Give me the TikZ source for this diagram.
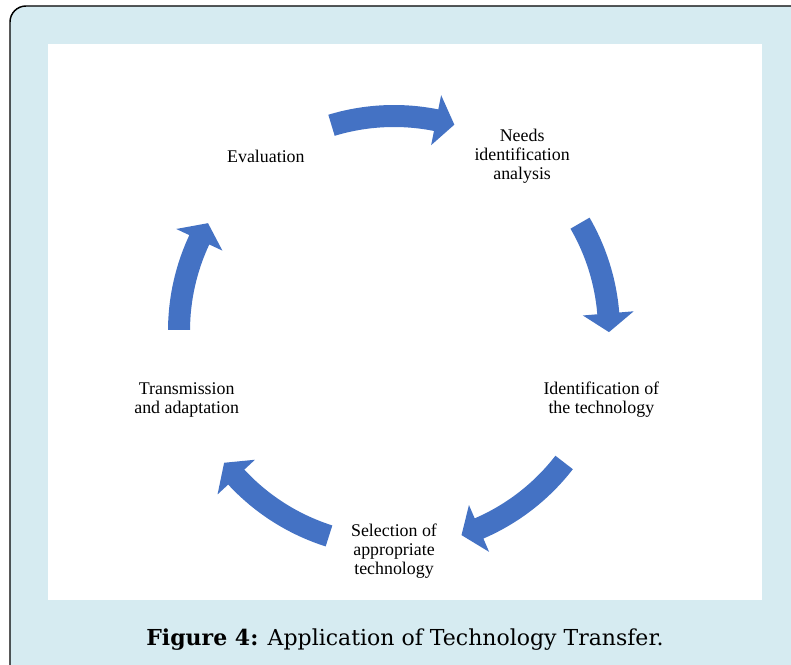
\documentclass[tikz,border=0pt]{standalone}
\usepackage{fontspec}
\setmainfont{Liberation Serif}
\newfontfamily\capfont{DejaVu Serif}
\usetikzlibrary{calc}
\definecolor{panelblue}{HTML}{D6EBF1}
\definecolor{arrowblue}{HTML}{4472C4}

% curved block arrow on the cycle ring, running clockwise
% #1 = angle of the tail end, #2 = angle of the tip
\newcommand\blockarc[2]{%
  \fill[arrowblue] (#1:226) arc[start angle=#1, end angle=#2+5, radius=226]
    -- (#2+5:240.5) -- (#2:215) -- (#2+5:189.5)
    -- (#2+5:204) arc[start angle=#2+5, end angle=#1, radius=204] -- cycle;}

\begin{document}
\begin{tikzpicture}[x=0.75pt,y=0.75pt,
  stage/.style={align=center, inner sep=0pt, yshift=-1.3pt,
    font=\fontsize{13.4}{14.3}\selectfont},
  captionstyle/.style={inner sep=0pt,
    font=\capfont\fontsize{16.5}{20}\selectfont}]
\useasboundingbox (0,0) rectangle (791,664);
\clip (0,0) rectangle (791,664);
\fill[white] (0,0) rectangle (791,664);

% framed panel, open past the right and bottom edges
\filldraw[fill=panelblue, draw=black, line width=1.1pt, rounded corners=12]
  (10,-40) rectangle (840,658);
\fill[white] (48,64) rectangle (762,620);

% cycle of stages
\begin{scope}[shift={(394,333)}]
  \node[stage] (needs) at (54:218) {Needs\\identification\\analysis};
  \node[stage] (ident) at (-18:218) {Identification of\\the technology};
  \node[stage] (select) at (-90:218) {Selection of\\appropriate\\technology};
  \node[stage] (trans) at (198:218) {Transmission\\and adaptation};
  \node[stage] (eval) at (126:218) {Evaluation};

  \blockarc{106.9}{73.7}
  \blockarc{30.1}{-0.3}
  \blockarc{-37.7}{-71.7}
  \blockarc{-107.6}{-142.2}
  \blockarc{179.7}{149.9}
\end{scope}

\node[captionstyle] (caption) at (405,24.5)
  {\textbf{Figure 4:} Application of Technology Transfer.};
\end{tikzpicture}
\end{document}
